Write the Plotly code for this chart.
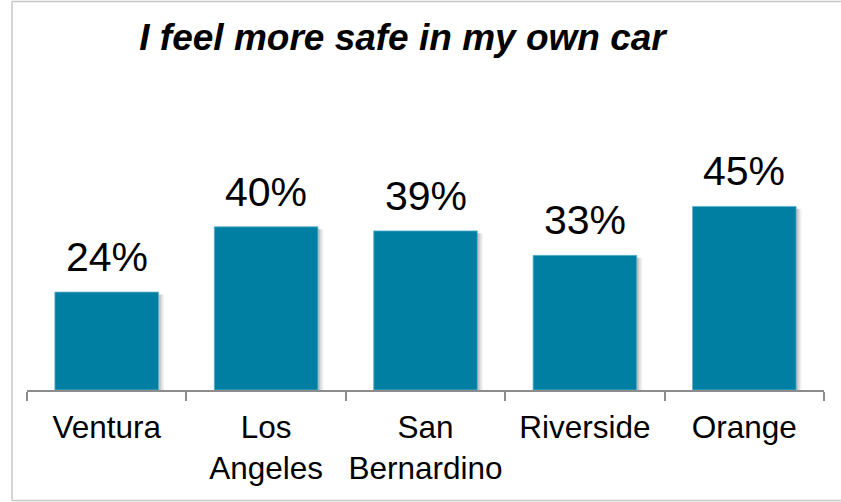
import plotly.graph_objects as go

# Survey share agreeing with the statement, by county
counties = ["Ventura", "Los Angeles", "San Bernardino", "Riverside", "Orange"]
tick_labels = ["Ventura", "Los<br>Angeles", "San<br>Bernardino", "Riverside", "Orange"]
share_pct = [24, 40, 39, 33, 45]

BAR_COLOR = "#017FA2"
FONT = "Arial, 'Liberation Sans', sans-serif"
BAR_W = 0.65

fig = go.Figure()

# soft drop shadow behind each bar
for dx, alpha in [(0.035, 0.05), (0.025, 0.08), (0.014, 0.12)]:
    fig.add_trace(go.Bar(
        x=counties, y=[v - 0.6 for v in share_pct],
        width=BAR_W, offset=-BAR_W / 2 + dx,
        marker=dict(color=f"rgba(0,0,0,{alpha})", line=dict(width=0)),
        hoverinfo="skip", showlegend=False,
    ))

fig.add_trace(go.Bar(
    x=counties, y=share_pct,
    width=BAR_W, offset=-BAR_W / 2,
    marker=dict(color=BAR_COLOR, line=dict(color="#5FB3CC", width=0.8)),
    showlegend=False,
))

# value labels above the bars
for c, v in zip(counties, share_pct):
    fig.add_annotation(
        x=c, y=v, text=f"{v}%", showarrow=False,
        yanchor="bottom", yshift=10,
        font=dict(family=FONT, size=41, color="black"),
    )

# light frame around the chart
border = dict(color="#C8C8C8", width=1.5)
fig.add_shape(type="line", xref="paper", yref="paper",
              x0=-0.0188, x1=1.05, y0=1.904, y1=1.904, line=border)
fig.add_shape(type="line", xref="paper", yref="paper",
              x0=-0.0188, x1=-0.0188, y0=1.904, y1=-0.542, line=border)
fig.add_shape(type="line", xref="paper", yref="paper",
              x0=-0.0188, x1=1.05, y0=-0.542, y1=-0.542, line=border)

fig.update_layout(
    width=841, height=502,
    margin=dict(l=27, r=17, t=186, b=112, autoexpand=False),
    paper_bgcolor="white", plot_bgcolor="white",
    barmode="overlay",
    title=dict(
        text="<b><i>I feel more safe in my own car</i></b>",
        x=402.5 / 841, xanchor="center",
        xref="container", yref="container",
        y=1 - 37 / 502, yanchor="middle",
        font=dict(family=FONT, size=37, color="black"),
    ),
    font=dict(family=FONT, color="black"),
)

fig.update_xaxes(
    type="category",
    tickmode="array", tickvals=counties, ticktext=tick_labels,
    tickson="boundaries", ticks="outside", ticklen=9, tickwidth=2,
    tickcolor="#8C8C8C",
    showline=True, linecolor="#8C8C8C", linewidth=2,
    showgrid=False, zeroline=False,
    tickangle=0, automargin=False,
    ticklabelstandoff=8,
    tickfont=dict(family=FONT, size=31.5, color="black"),
)
fig.update_yaxes(
    range=[0, 50], visible=False, showgrid=False, zeroline=False,
    automargin=False,
)

fig.write_html("out.html")
